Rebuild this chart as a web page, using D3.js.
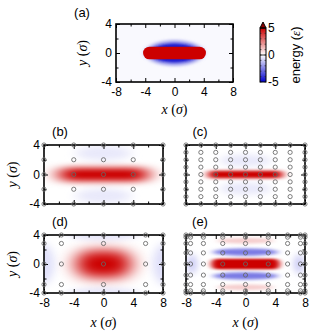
<!DOCTYPE html>
<html><head><meta charset="utf-8">
<script src="https://cdn.jsdelivr.net/npm/d3@7"></script>
<style>body{margin:0;background:#fff}svg{display:block}</style>
</head><body><div id="chart"></div>
<script>
// ---------------- data ----------------
const xDomain = [-8, 8];
const yDomain = [-4, 4];
const xTicks = [-8, -4, 0, 4, 8];
const xTickLabels = ["-8", "-4", "0", "4", "8"];
const xMinorTicks = [-6, -2, 2, 6];
const yTicks = [-4, 0, 4];
const yTickLabels = ["-4", "0", "4"];
const yMinorTicks = [-2, 2];
const cbDomain = [-5, 0, 5];
const cbTicks = [-5, 0, 5];
const cbTickLabels = ["-5", "0", "5"];
const cbMinorTicks = [-4, -3, -2, -1, 1, 2, 3, 4];
const energyColors = ["#0000cc", "#ffffff", "#cc0000"];

// panel (a): rod (capsule) endpoints & radius, in sigma
const rodA = [{x0: -4.3, x1: 4.3, r: 0.87}];
// energy blobs per panel: centre, half extents, value, softness (sigma units)
const fieldA = [
  {shape: "rect",    cx: 0, cy: 0,  hw: 9,   hh: 5,    v: -0.12, sx: 0,    sy: 0},
  {shape: "ellipse", cx: 0, cy: 0,  hw: 4.0, hh: 1.75, v: -2.0,  sx: 0.35, sy: 0.22},
  {shape: "ellipse", cx: 0, cy: 0,  hw: 3.3, hh: 1.3,  v: -4.5,  sx: 0.3,  sy: 0.18}
];
const fieldB = [
  {shape: "ellipse", cx: 0, cy: 2.9,  hw: 3.8, hh: 1.0,  v: -0.45, sx: 0.8,  sy: 0.5},
  {shape: "ellipse", cx: 0, cy: -2.9, hw: 3.8, hh: 1.0,  v: -0.45, sx: 0.8,  sy: 0.5},
  {shape: "capsule", cx: 0, cy: 0,    hw: 6.0, hh: 0.9,  v: 5,     sx: 1.3,  sy: 0.45}
];
const fieldC = [
  {shape: "ellipse", cx: 0, cy: 1.9,  hw: 3.5, hh: 0.8,  v: -0.45, sx: 0.6,  sy: 0.4},
  {shape: "ellipse", cx: 0, cy: -1.9, hw: 3.5, hh: 0.8,  v: -0.45, sx: 0.6,  sy: 0.4},
  {shape: "capsule", cx: 0, cy: 0,    hw: 5.0, hh: 0.52, v: 5,     sx: 0.65, sy: 0.2}
];
const fieldD = [
  {shape: "ellipse", cx: -8.2, cy: 0,   hw: 1.6, hh: 2.8, v: -0.6,  sx: 0.6, sy: 0.6},
  {shape: "ellipse", cx: 8.2,  cy: 0,   hw: 1.6, hh: 2.8, v: -0.6,  sx: 0.6, sy: 0.6},
  {shape: "ellipse", cx: 0,    cy: 4.2, hw: 5.0, hh: 1.0, v: -0.45, sx: 0.7, sy: 0.4},
  {shape: "ellipse", cx: 0,    cy: -4.2,hw: 5.0, hh: 1.0, v: -0.45, sx: 0.7, sy: 0.4},
  {shape: "capsule", cx: 0,    cy: 0,   hw: 3.7, hh: 1.85,v: 5,     sx: 1.3, sy: 0.8}
];
const fieldE = [
  {shape: "ellipse", cx: -7.2, cy: 0,     hw: 0.8, hh: 1.3,  v: -0.9, sx: 0.4,  sy: 0.5},
  {shape: "ellipse", cx: 7.2,  cy: 0,     hw: 0.8, hh: 1.3,  v: -0.9, sx: 0.4,  sy: 0.5},
  {shape: "ellipse", cx: 0,    cy: 3.2,   hw: 3.8, hh: 0.38, v: 1.0,  sx: 0.5,  sy: 0.22},
  {shape: "ellipse", cx: 0,    cy: -3.2,  hw: 3.8, hh: 0.38, v: 1.0,  sx: 0.5,  sy: 0.22},
  {shape: "ellipse", cx: 0,    cy: 1.65,  hw: 4.4, hh: 0.5,  v: -2.6, sx: 0.5,  sy: 0.22},
  {shape: "ellipse", cx: 0,    cy: -1.65, hw: 4.4, hh: 0.5,  v: -2.6, sx: 0.5,  sy: 0.22},
  {shape: "capsule", cx: 0,    cy: 0,     hw: 4.6, hh: 0.72, v: 5,    sx: 0.4,  sy: 0.18}
];
// node coordinates of the discretisation grids
const nodesBx = [-8, -4, 0, 4, 8];
const nodesBy = [-4, -2, 0, 2, 4];
const nodesCx = [-8, -6, -4, -2, 0, 2, 4, 6, 8];
const nodesCy = [-4, -3, -2, -1, 0, 1, 2, 3, 4];
const nodesDx = [-8, -5.66, 0, 5.66, 8];
const nodesDy = [-4, -2.83, 0, 2.83, 4];
const nodesEx = [-8, -7.39, -5.66, -3.06, 0, 3.06, 5.66, 7.39, 8];
const nodesEy = [-4, -3.7, -2.83, -1.53, 0, 1.53, 2.83, 3.7, 4];

// ---------------- layout ----------------
const W = 313, H = 336;
const SANS = "'Liberation Sans', Arial, sans-serif";
const SERIF = "'Liberation Serif', 'Times New Roman', serif";
const color = d3.scaleLinear().domain(cbDomain).range(energyColors).clamp(true);

const panels = [
  {id: "a", left: 116, right: 233, top: 24,  bottom: 82,  field: fieldA, rod: rodA, nx: null, ny: null,
   xLabels: true, yLabels: true, label: "(a)", lx: 82, ly: 17, xTitleY: 114, yTitleX: 87},
  {id: "b", left: 44,  right: 163, top: 145, bottom: 204, field: fieldB, nx: nodesBx, ny: nodesBy,
   xLabels: false, yLabels: true, label: "(b)", lx: 60, ly: 136, yTitleX: 17},
  {id: "c", left: 186, right: 305, top: 145, bottom: 204, field: fieldC, nx: nodesCx, ny: nodesCy,
   xLabels: false, yLabels: false, label: "(c)", lx: 200, ly: 136},
  {id: "d", left: 44,  right: 163, top: 235, bottom: 293, field: fieldD, nx: nodesDx, ny: nodesDy,
   xLabels: true, yLabels: true, label: "(d)", lx: 60, ly: 226, xTitleY: 327, yTitleX: 17},
  {id: "e", left: 186, right: 305, top: 235, bottom: 293, field: fieldE, nx: nodesEx, ny: nodesEy,
   xLabels: true, yLabels: false, label: "(e)", lx: 200, ly: 226, xTitleY: 327}
];

const svg = d3.select("#chart").append("svg").attr("width", W).attr("height", H)
  .style("background", "#fff");
const defs = svg.append("defs");

function mathLabel(sel, v) {
  sel.append("tspan").attr("font-style", "italic").text(v);
  sel.append("tspan").text(" (");
  sel.append("tspan").attr("font-style", "italic").text("σ");
  sel.append("tspan").text(")");
}

panels.forEach(p => {
  const x = d3.scaleLinear().domain(xDomain).range([p.left, p.right]);
  const y = d3.scaleLinear().domain(yDomain).range([p.bottom, p.top]);
  const ux = x(1) - x(0), uy = y(0) - y(1);
  const g = svg.append("g");

  defs.append("clipPath").attr("id", "clip-" + p.id).append("rect")
    .attr("x", p.left).attr("y", p.top).attr("width", p.right - p.left).attr("height", p.bottom - p.top);

  const fg = g.append("g").attr("clip-path", `url(#clip-${p.id})`);
  fg.append("rect").attr("x", p.left).attr("y", p.top)
    .attr("width", p.right - p.left).attr("height", p.bottom - p.top).attr("fill", "#fff");

  p.field.forEach((b, i) => {
    if (b.sx > 0 || b.sy > 0) {
      defs.append("filter").attr("id", `f-${p.id}-${i}`)
        .attr("filterUnits", "userSpaceOnUse").attr("x", -50).attr("y", -50)
        .attr("width", W + 100).attr("height", H + 100)
        .append("feGaussianBlur").attr("stdDeviation", `${b.sx * ux} ${b.sy * uy}`);
    }
  });

  fg.selectAll("rect.blob").data(p.field).join("rect")
    .attr("class", "blob")
    .attr("x", d => x(d.cx - d.hw))
    .attr("y", d => y(d.cy + d.hh))
    .attr("width", d => x(d.cx + d.hw) - x(d.cx - d.hw))
    .attr("height", d => y(d.cy - d.hh) - y(d.cy + d.hh))
    .attr("rx", d => d.shape === "ellipse" ? d.hw * ux : d.shape === "capsule" ? Math.min(d.hw * ux, d.hh * uy) : 0)
    .attr("ry", d => d.shape === "ellipse" ? d.hh * uy : d.shape === "capsule" ? Math.min(d.hw * ux, d.hh * uy) : 0)
    .attr("fill", d => color(d.v))
    .attr("filter", (d, i) => (d.sx > 0 || d.sy > 0) ? `url(#f-${p.id}-${i})` : null);

  if (p.rod) {
    fg.selectAll("rect.rod").data(p.rod).join("rect").attr("class", "rod")
      .attr("x", d => x(d.x0)).attr("y", d => y(d.r))
      .attr("width", d => x(d.x1) - x(d.x0)).attr("height", d => y(-d.r) - y(d.r))
      .attr("rx", d => d.r * uy).attr("ry", d => d.r * uy)
      .attr("fill", color(5));
  }

  // axes (inward ticks on all sides)
  const mk = (axisFn, scale, vals, size, fmt, pad) => {
    const a = axisFn(scale).tickValues(vals).tickSize(size).tickPadding(pad);
    a.tickFormat(fmt || (() => ""));
    return a;
  };
  const styleAxis = s => {
    s.select(".domain").remove();
    s.selectAll(".tick line").attr("stroke", "#000").attr("stroke-width", 1);
    s.selectAll("text").attr("font-family", SANS).attr("font-size", 12).attr("fill", "#000");
  };
  const B = p.bottom, T = p.top, L = p.left, R = p.right;
  g.append("g").attr("transform", `translate(0,${B})`)
    .call(mk(d3.axisBottom, x, xTicks, -4, p.xLabels ? ((d, i) => xTickLabels[i]) : null, 5)).call(styleAxis);
  g.append("g").attr("transform", `translate(0,${B})`)
    .call(mk(d3.axisBottom, x, xMinorTicks, -2.5, null, 5)).call(styleAxis);
  g.append("g").attr("transform", `translate(0,${T})`)
    .call(mk(d3.axisTop, x, xTicks, -4, null, 5)).call(styleAxis);
  g.append("g").attr("transform", `translate(0,${T})`)
    .call(mk(d3.axisTop, x, xMinorTicks, -2.5, null, 5)).call(styleAxis);
  g.append("g").attr("transform", `translate(${L},0)`)
    .call(mk(d3.axisLeft, y, yTicks, -4, p.yLabels ? ((d, i) => yTickLabels[i]) : null, 4)).call(styleAxis);
  g.append("g").attr("transform", `translate(${L},0)`)
    .call(mk(d3.axisLeft, y, yMinorTicks, -2.5, null, 4)).call(styleAxis);
  g.append("g").attr("transform", `translate(${R},0)`)
    .call(mk(d3.axisRight, y, yTicks, -4, null, 4)).call(styleAxis);
  g.append("g").attr("transform", `translate(${R},0)`)
    .call(mk(d3.axisRight, y, yMinorTicks, -2.5, null, 4)).call(styleAxis);

  g.append("rect").attr("x", L).attr("y", T).attr("width", R - L).attr("height", B - T)
    .attr("fill", "none").attr("stroke", "#000").attr("stroke-width", 1.6);

  // grid nodes
  if (p.nx) {
    const nodes = d3.cross(p.nx, p.ny);
    g.selectAll("circle.node").data(nodes).join("circle").attr("class", "node")
      .attr("cx", d => x(d[0])).attr("cy", d => y(d[1])).attr("r", 2.1)
      .attr("fill", "none").attr("stroke", "#666").attr("stroke-width", 0.85);
  }

  // panel label
  svg.append("text").attr("x", p.lx).attr("y", p.ly).attr("text-anchor", "middle")
    .attr("font-family", SANS).attr("font-size", 13).text(p.label);
  if (p.xTitleY) {
    svg.append("text").attr("x", (L + R) / 2).attr("y", p.xTitleY).attr("text-anchor", "middle")
      .attr("font-family", SERIF).attr("font-size", 14).call(s => mathLabel(s, "x"));
  }
  if (p.yTitleX) {
    svg.append("text").attr("transform", `translate(${p.yTitleX},${(T + B) / 2}) rotate(-90)`)
      .attr("text-anchor", "middle").attr("font-family", SERIF).attr("font-size", 14)
      .call(s => mathLabel(s, "y"));
  }
});

// ---------------- colorbar ----------------
const cbX0 = 260, cbX1 = 266;
const cy = d3.scaleLinear().domain([-5, 5]).range([82, 28]);
const grad = defs.append("linearGradient").attr("id", "cbgrad")
  .attr("x1", 0).attr("y1", 1).attr("x2", 0).attr("y2", 0);
grad.selectAll("stop").data(cbDomain).join("stop")
  .attr("offset", d => (d + 5) / 10).attr("stop-color", d => color(d));
const cb = svg.append("g");
cb.append("rect").attr("x", cbX0).attr("y", cy(5)).attr("width", cbX1 - cbX0).attr("height", cy(-5) - cy(5))
  .attr("fill", "url(#cbgrad)");
cb.append("path")
  .attr("d", `M${cbX0},${cy(5)} L${(cbX0 + cbX1) / 2},${cy(5) - 6} L${cbX1},${cy(5)} Z`)
  .attr("fill", "#8a0000").attr("stroke", "#000").attr("stroke-width", 1);
cb.selectAll("line.minor").data(cbMinorTicks.concat(cbTicks)).join("line").attr("class", "minor")
  .attr("x1", cbX0).attr("x2", cbX0 + 1.5).attr("y1", d => cy(d)).attr("y2", d => cy(d))
  .attr("stroke", "#333").attr("stroke-width", 0.7);
cb.selectAll("line.minor2").data(cbMinorTicks.concat(cbTicks)).join("line").attr("class", "minor2")
  .attr("x1", cbX1 - 1.5).attr("x2", cbX1).attr("y1", d => cy(d)).attr("y2", d => cy(d))
  .attr("stroke", "#333").attr("stroke-width", 0.7);
cb.selectAll("line.major").data([0]).join("line").attr("class", "major")
  .attr("x1", cbX0).attr("x2", cbX1).attr("y1", d => cy(d)).attr("y2", d => cy(d))
  .attr("stroke", "#000").attr("stroke-width", 0.8);
cb.append("rect").attr("x", cbX0).attr("y", cy(5)).attr("width", cbX1 - cbX0).attr("height", cy(-5) - cy(5))
  .attr("fill", "none").attr("stroke", "#000").attr("stroke-width", 1);
cb.selectAll("text.cbl").data(cbTicks).join("text").attr("class", "cbl")
  .attr("x", 268).attr("y", d => cy(d)).attr("dy", "0.36em")
  .attr("font-family", SANS).attr("font-size", 12).text((d, i) => cbTickLabels[i]);
const cbt = svg.append("text").attr("transform", `translate(300,${(cy(5) + cy(-5)) / 2}) rotate(-90)`)
  .attr("text-anchor", "middle").attr("font-family", SANS).attr("font-size", 13);
cbt.append("tspan").text("energy (");
cbt.append("tspan").attr("font-family", SERIF).attr("font-style", "italic").text("ε");
cbt.append("tspan").text(")");
</script>
</body></html>
